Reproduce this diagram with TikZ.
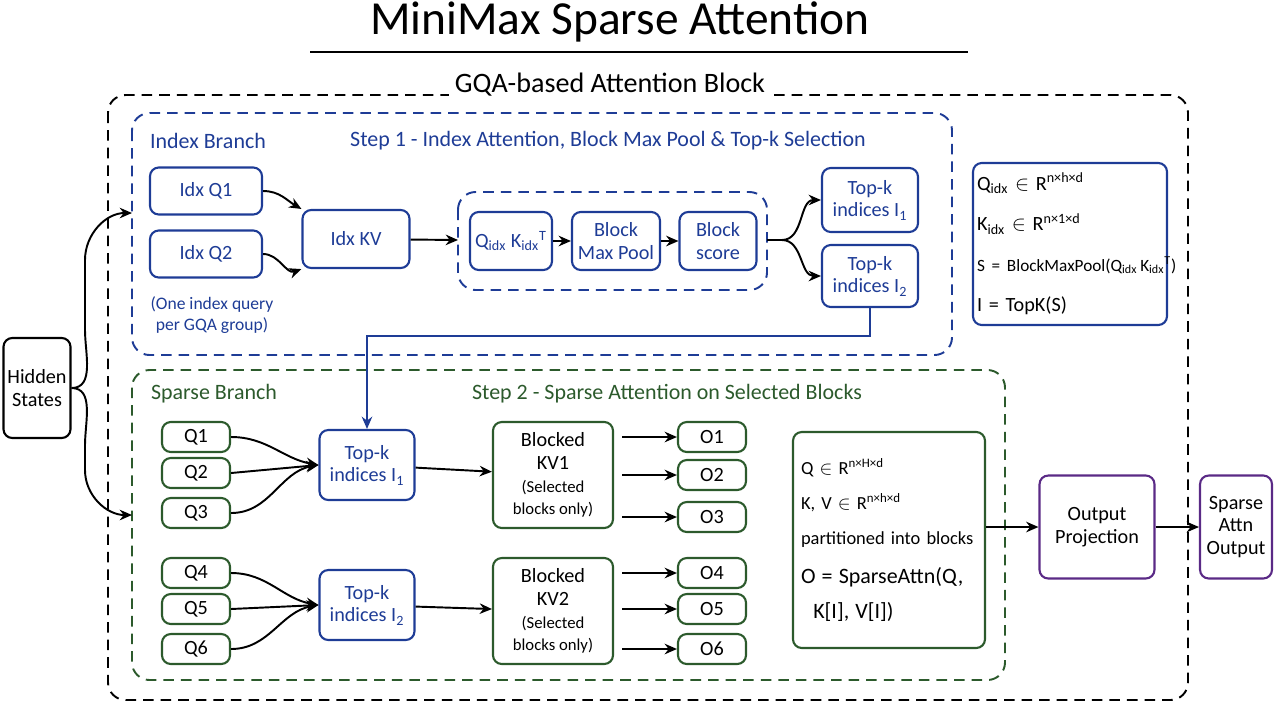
\documentclass[tikz,border=0pt]{standalone}
\usepackage{fontspec}
\setmainfont{Carlito}
\usetikzlibrary{arrows.meta}
\definecolor{bl}{HTML}{1E3C96}
\definecolor{gr}{HTML}{2C5A2C}
\definecolor{pu}{HTML}{5A2A86}
\begin{document}
\begin{tikzpicture}[x=0.02cm,y=-0.02cm,
  bx/.style={draw,rounded corners=5pt,line width=1.2pt,align=center,font=\fontsize{11.5}{13}\selectfont,inner sep=1pt},
  bb/.style={bx,draw=bl,text=bl},
  gb/.style={bx,draw=gr},
  pb/.style={bx,draw=pu},
  dsh/.style={dashed,rounded corners=10pt,line width=1.1pt,dash pattern=on 6pt off 4pt},
  ar/.style={-{Stealth[length=7pt,width=6pt]},line width=1.1pt},
  lbl/.style={font=\fontsize{12.5}{14}\selectfont}]
\useasboundingbox (0,0) rectangle (1280,718);
\node[font=\fontsize{27}{30}\selectfont] (title) at (620,22) {MiniMax Sparse Attention};
\draw[line width=1.5pt] (310,52) -- (968,52);
% outer
\draw[dsh] (108,95) rectangle (1188,700);
\node[fill=white,font=\fontsize{16}{18}\selectfont] (gqa) at (610,85) {GQA-based Attention Block};
% blue dashed
\draw[dsh,bl] (132,113) rectangle (952,355);
\node[lbl,text=bl] (ib) at (208,141) {Index Branch};
\node[lbl,text=bl] (s1) at (608,141) {Step 1 - Index Attention, Block Max Pool \& Top-k Selection};
\node[bb,minimum width=112*0.02cm,minimum height=47*0.02cm] (iq1) at (206,191) {Idx Q1};
\node[bb,minimum width=112*0.02cm,minimum height=47*0.02cm] (iq2) at (206,254) {Idx Q2};
\node[bb,minimum width=107*0.02cm,minimum height=58*0.02cm] (ikv) at (356,239) {Idx KV};
\draw[dsh,bl] (458,192) rectangle (767,290);
\coordinate (inL) at (458,240); \coordinate (inR) at (767,240);
\node[bb,minimum width=82*0.02cm,minimum height=58*0.02cm] (qk) at (511,241) {Q\textsubscript{idx} K\textsubscript{idx}\textsuperscript{T}};
\node[bb,minimum width=88*0.02cm,minimum height=58*0.02cm] (bmp) at (616,241) {Block\\Max Pool};
\node[bb,minimum width=77*0.02cm,minimum height=58*0.02cm] (bs) at (718,241) {Block\\score};
\node[bb,minimum width=96*0.02cm,minimum height=64*0.02cm] (t1) at (870,200) {Top-k\\indices I\textsubscript{1}};
\node[bb,minimum width=96*0.02cm,minimum height=62*0.02cm] (t2) at (870,276) {Top-k\\indices I\textsubscript{2}};
\node[text=bl,align=center,font=\fontsize{10}{12}\selectfont] (note) at (212,315) {(One index query\\per GQA group)};
\draw[ar] (iq1.east) to[out=0,in=150] (ikv.north west);
\draw[ar] (iq2.east) to[out=0,in=200] (ikv.south west);
\draw[ar] (ikv) -- (inL);
\draw[ar] (qk) -- (bmp); \draw[ar] (bmp) -- (bs);
\draw[ar] (inR) -- ++(15,0) to[out=0,in=180] (t1.west);
\draw[ar] (inR) -- ++(15,0) to[out=0,in=180] (t2.west);
% formula blue
\node[bb,text=black,align=left,text width=186*0.02cm,minimum height=162*0.02cm,inner xsep=4*0.02cm,font=\fontsize{11.5}{23}\selectfont] (f1) at (1070,244) {Q\textsubscript{idx} $\in$ R\textsuperscript{n×h×d}\\K\textsubscript{idx} $\in$ R\textsuperscript{n×1×d}\\\mbox{\fontsize{9.8}{23}\selectfont S = BlockMaxPool(Q\textsubscript{idx}\,K\textsubscript{idx}\textsuperscript{T})}\\I = TopK(S)};
% green dashed
\draw[dsh,gr] (132,370) rectangle (1005,680);
\node[lbl,text=gr] (sb) at (214,394) {Sparse Branch};
\node[lbl,text=gr] (s2) at (667,394) {Step 2 - Sparse Attention on Selected Blocks};
\foreach \n/\y in {1/437,2/473,3/513,4/573,5/609,6/649}{
  \node[gb,minimum width=68*0.02cm,minimum height=30*0.02cm] (q\n) at (196,\y) {Q\n};}
\foreach \n/\y in {1/437,2/475,3/517,4/573,5/609,6/649}{
  \node[gb,minimum width=68*0.02cm,minimum height=30*0.02cm] (o\n) at (712,\y) {O\n};}
\node[bb,minimum width=95*0.02cm,minimum height=70*0.02cm] (st1) at (367,465) {Top-k\\indices I\textsubscript{1}};
\node[bb,minimum width=95*0.02cm,minimum height=70*0.02cm] (st2) at (367,605) {Top-k\\indices I\textsubscript{2}};
\node[gb,minimum width=120*0.02cm,minimum height=106*0.02cm] (kv1) at (553,475) {Blocked\\KV1\\{\fontsize{9.5}{11}\selectfont(Selected}\\{\fontsize{9.5}{11}\selectfont blocks only)}};
\node[gb,minimum width=120*0.02cm,minimum height=106*0.02cm] (kv2) at (553,611) {Blocked\\KV2\\{\fontsize{9.5}{11}\selectfont(Selected}\\{\fontsize{9.5}{11}\selectfont blocks only)}};
\draw[ar] (q1.east) to[out=0,in=170] (st1.west);
\draw[ar] (q2.east) -- (st1.west);
\draw[ar] (q3.east) to[out=0,in=190] (st1.west);
\draw[ar] (q4.east) to[out=0,in=170] (st2.west);
\draw[ar] (q5.east) -- (st2.west);
\draw[ar] (q6.east) to[out=0,in=190] (st2.west);
\draw[ar] (st1) -- (kv1); \draw[ar] (st2) -- (kv2);
\foreach \n in {1,2,3}{\draw[ar] (kv1.east |- o\n) ++(8,0) -- (o\n.west);}
\foreach \n in {4,5,6}{\draw[ar] (kv2.east |- o\n) ++(8,0) -- (o\n.west);}
\draw[ar,bl] (t2.south) -- ++(0,28) -| (st1.north);
\node[gb,align=left,minimum height=216*0.02cm,text width=176*0.02cm,inner xsep=8*0.02cm,font=\fontsize{10.5}{20}\selectfont] (f2) at (889,540) {Q $\in$ R\textsuperscript{n×H×d}\\K, V $\in$ R\textsuperscript{n×h×d}\\partitioned into blocks\\[2pt]{\fontsize{12.5}{20}\selectfont O = SparseAttn(Q,}\\{\fontsize{12.5}{20}\selectfont\ \ K[I], V[I])}};
\node[pb,minimum width=115*0.02cm,minimum height=103*0.02cm] (op) at (1097,527) {Output\\Projection};
\node[pb,minimum width=72*0.02cm,minimum height=103*0.02cm] (so) at (1236,527) {Sparse\\Attn\\Output};
\draw[ar] (f2.east |- op.west) -- (op.west);
\draw[ar] (op) -- (so);
\node[bx,minimum width=67*0.02cm,minimum height=100*0.02cm] (hs) at (37,388) {Hidden\\States};
\coordinate (e1) at (132,213); \coordinate (e2) at (132,515);
\draw[ar] (hs.east) to[out=0,in=270] (85,330) -- (85,260) to[out=90,in=180] (e1);
\draw[ar] (hs.east) to[out=0,in=90] (85,445) -- (85,470) to[out=270,in=180] (e2);
\end{tikzpicture}
\end{document}
